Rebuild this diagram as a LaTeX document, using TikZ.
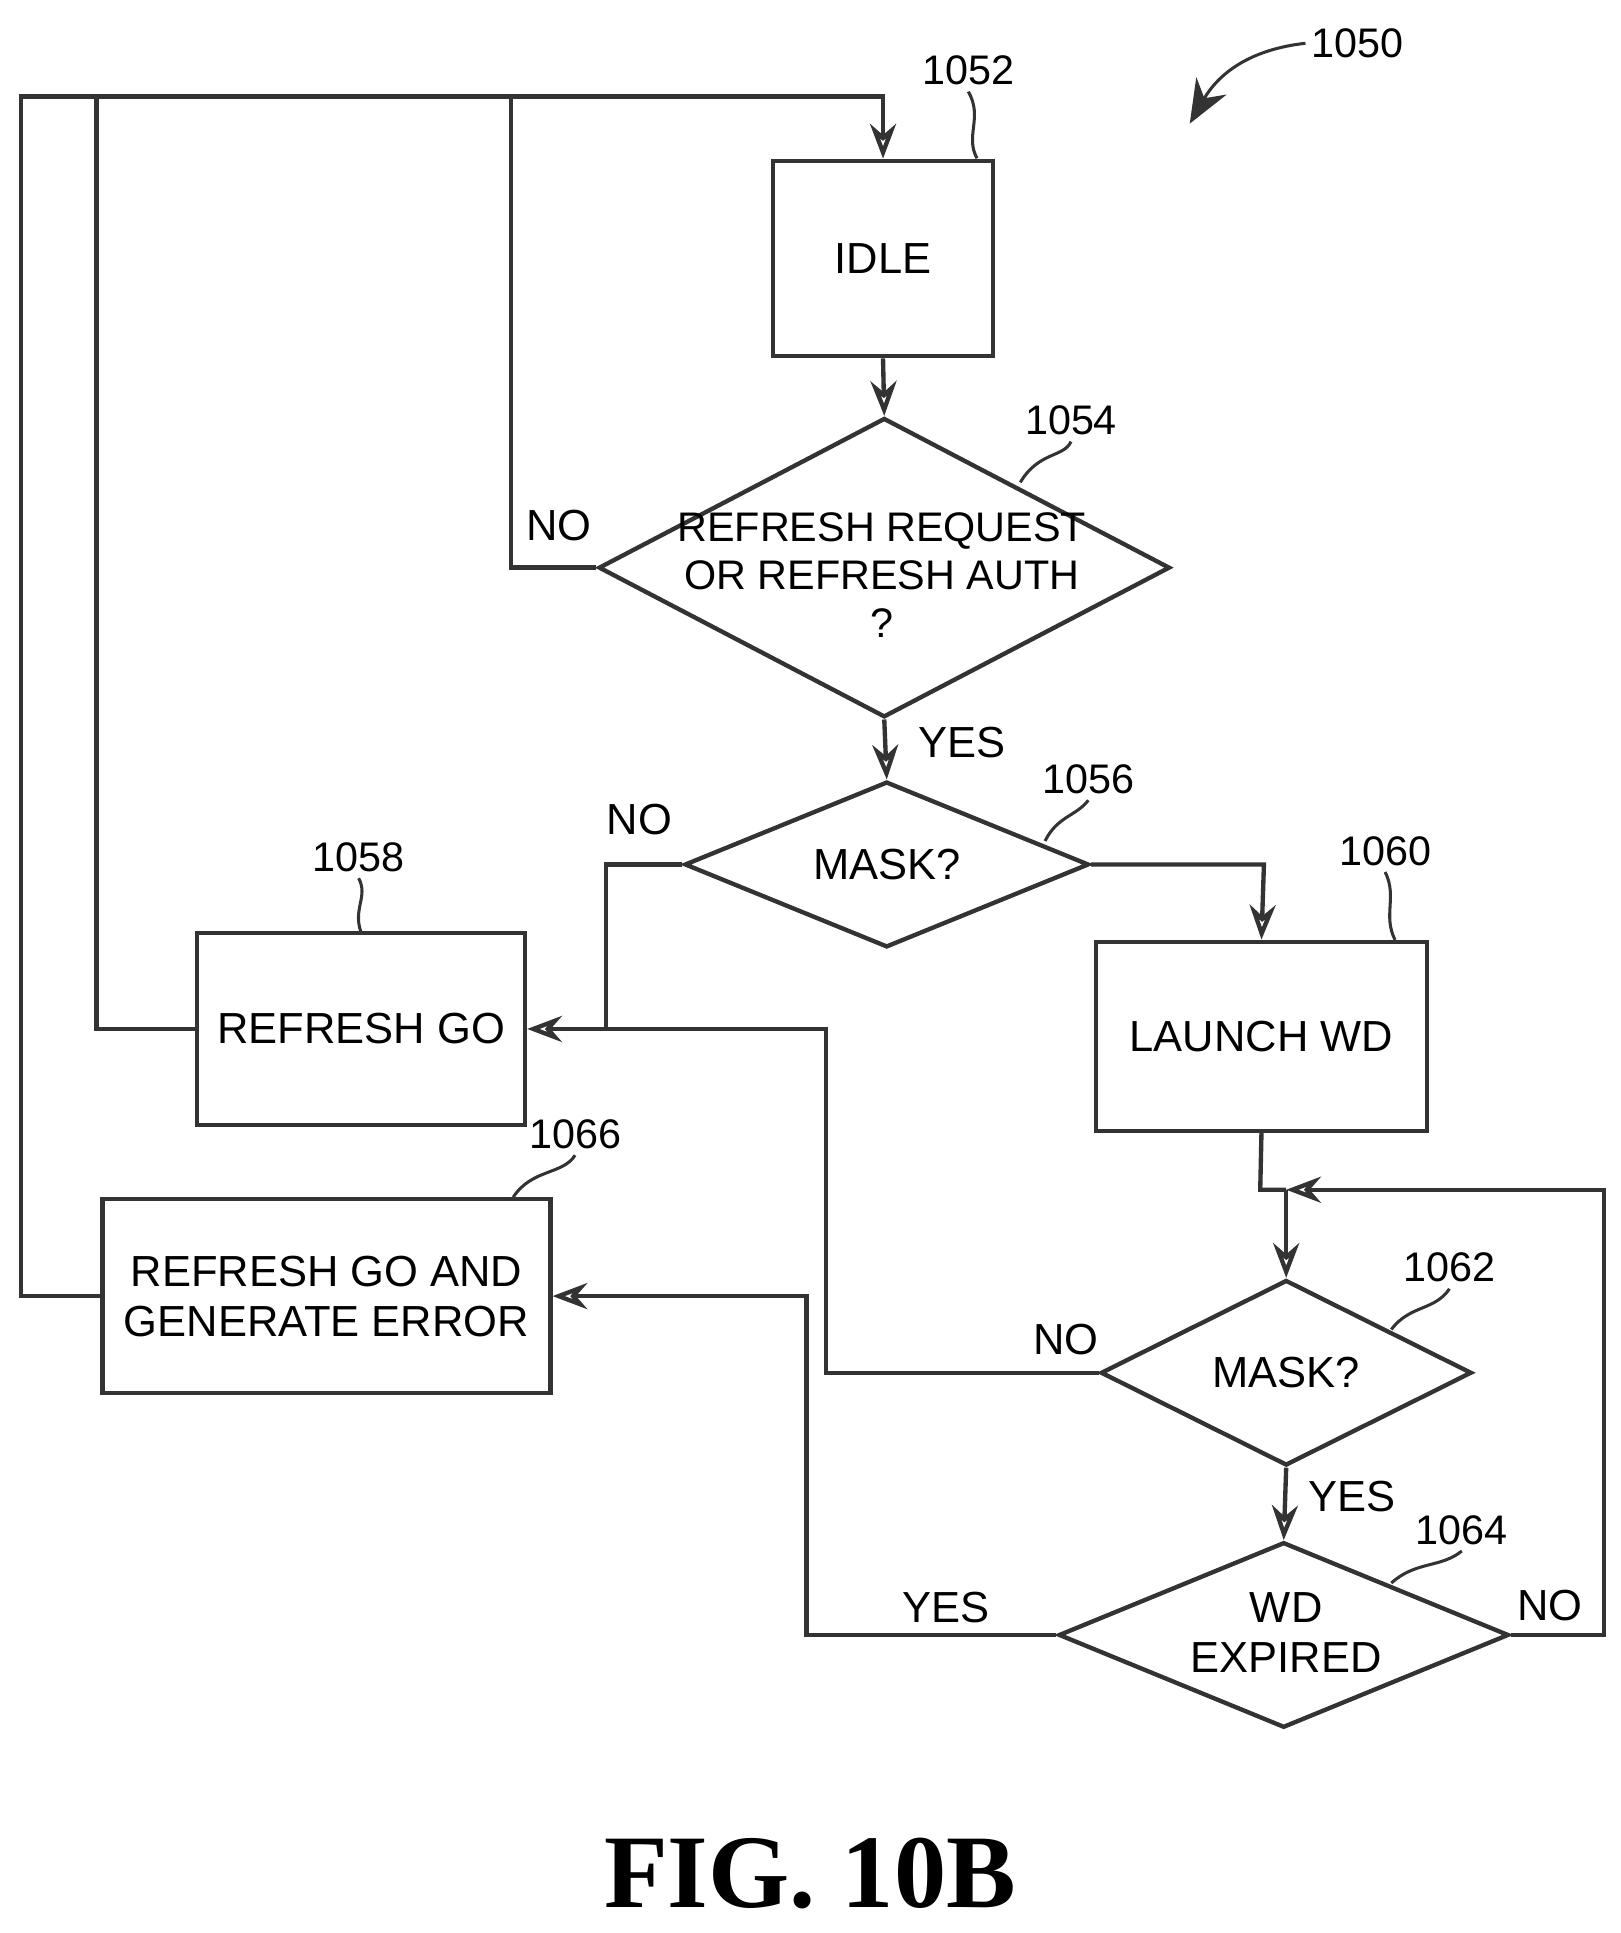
\documentclass[tikz,border=0pt]{standalone}
\usepackage{fontspec}
\setmainfont{Liberation Sans}
\newfontfamily\figserif{Liberation Serif}
\usetikzlibrary{shapes.geometric,arrows.meta}
\begin{document}
\begin{tikzpicture}[x=0.01cm,y=-0.01cm,
  line width=1pt, draw=black!80,
  box/.style={draw, rectangle, inner sep=0pt},
  dia/.style={draw, diamond, inner sep=0pt},
  txt/.style={font=\fontsize{10}{11.5}\selectfont, align=center, inner sep=0pt},
  ref/.style={font=\fontsize{9.5}{11}\selectfont, inner sep=1pt},
  arr/.style={-{Stealth[length=8pt,width=6pt,open]}},
  sq/.style={line width=0.7pt}]
\useasboundingbox (0,0) rectangle (1310,1563);
% boxes
\node[box, minimum width=178*0.01cm, minimum height=158*0.01cm] (idle) at (714,209) {};
\node[txt] at (idle) {IDLE};
\node[box, minimum width=265*0.01cm, minimum height=155*0.01cm] (go) at (292,832) {};
\node[txt] at (go) {REFRESH GO};
\node[box, minimum width=268*0.01cm, minimum height=153*0.01cm] (wd) at (1020,838) {};
\node[txt] at (wd) {LAUNCH WD};
\node[box, minimum width=362*0.01cm, minimum height=157*0.01cm] (err) at (264,1048) {};
\node[txt] at (err) {REFRESH GO AND\\GENERATE ERROR};
% diamonds
\node[dia, minimum width=462*0.01cm, minimum height=242*0.01cm] (d54) at (715,459) {};
\node[txt, font=\fontsize{9.5}{11}\selectfont] at (713,465) {REFRESH REQUEST\\OR REFRESH AUTH\\?};
\node[dia, minimum width=327*0.01cm, minimum height=134*0.01cm] (d56) at (717,699) {};
\node[txt] at (d56) {MASK?};
\node[dia, minimum width=300*0.01cm, minimum height=150*0.01cm] (d62) at (1040,1110) {};
\node[txt] at (d62) {MASK?};
\node[dia, minimum width=364*0.01cm, minimum height=150*0.01cm] (d64) at (1038,1322) {};
\node[txt] at (1040,1320) {WD\\EXPIRED};
% connectors
\coordinate (top) at (714,78);
\draw[arr] (err.west) -- (17,1048) -- (17,78) -- (top) -- (idle.north);
\draw (go.west) -- (78,832) -- (78,78);
\draw (d54.west) -- (413,459) -- (413,78);
\draw[arr] (idle.south) -- (d54.north);
\draw[arr] (d54.south) -- (d56.north);
\draw[arr] (d56.west) -- (490,699) -- (490,832) -- (go.east);
\draw[arr] (d56.east) -- (1022,699) -- (wd.north);
\coordinate (j) at (1040,962);
\draw (wd.south) -- (1019,962) -- (j);
\draw[arr] (j) -- (d62.north);
\draw[arr] (d64.east) -- (1297,1322) -- (1297,962) -- (j);
\draw (d62.west) -- (668,1110) -- (668,832) -- (490,832);
\draw[arr] (d62.south) -- (d64.north);
\draw[arr] (d64.west) -- (652,1322) -- (652,1048) -- (err.east);
% branch labels
\node[txt] at (452,425) {NO};
\node[txt] at (778,600) {YES};
\node[txt] at (517,663) {NO};
\node[txt] at (862,1083) {NO};
\node[txt] at (1093,1210) {YES};
\node[txt] at (765,1300) {YES};
\node[txt] at (1253,1298) {NO};
% reference numerals
\node[ref] (r50) at (1098,35) {1050};
\draw[sq,-{Stealth[length=10pt,width=8pt]}] (r50.west) .. controls (1010,40) and (985,60) .. (962,100);
\node[ref] (r52) at (783,57) {1052};
\draw[sq] (r52.south) .. controls (795,95) and (780,110) .. (790,128);
\node[ref] (r54) at (866,340) {1054};
\draw[sq] (r54.south) .. controls (860,370) and (840,365) .. (825,390);
\node[ref] (r56) at (880,630) {1056};
\draw[sq] (r56.south) .. controls (870,660) and (855,660) .. (845,680);
\node[ref] (r58) at (290,693) {1058};
\draw[sq] (r58.south) .. controls (298,725) and (285,735) .. (292,754);
\node[ref] (r60) at (1120,688) {1060};
\draw[sq] (r60.south) .. controls (1130,725) and (1118,740) .. (1128,760);
\node[ref] (r62) at (1172,1025) {1062};
\draw[sq] (r62.south) .. controls (1160,1060) and (1140,1055) .. (1125,1075);
\node[ref] (r64) at (1182,1237) {1064};
\draw[sq] (r64.south) .. controls (1165,1268) and (1145,1262) .. (1125,1280);
\node[ref] (r66) at (465,917) {1066};
\draw[sq] (r66.south) .. controls (455,950) and (430,945) .. (415,968);
\node[font=\fontsize{24}{26}\selectfont\bfseries\figserif, inner sep=0pt] (fig) at (655,1515) {FIG. 10B};
\end{tikzpicture}
\end{document}
